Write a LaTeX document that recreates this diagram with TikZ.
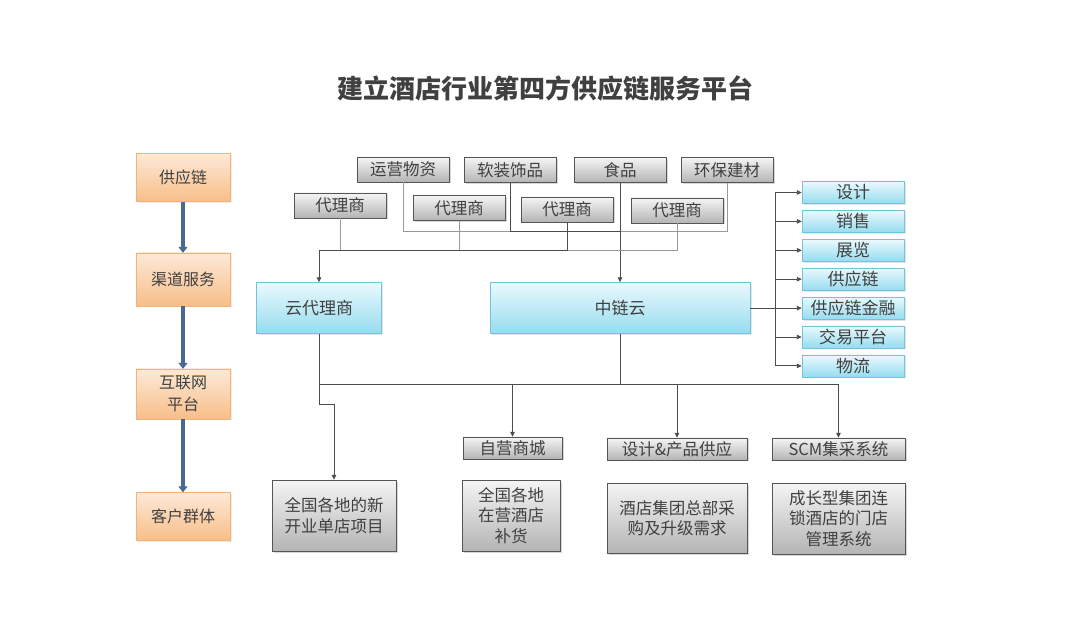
\documentclass[tikz,border=0pt]{standalone}
\usepackage{fontspec}
\setmainfont{Noto Sans CJK SC}
\usepackage{xcolor}
\usepackage{tikz}
\usetikzlibrary{positioning,arrows.meta,shadows}
\definecolor{txt}{HTML}{404040}
\definecolor{orgT}{HTML}{FDE9D8}
\definecolor{orgB}{HTML}{F8BE88}
\definecolor{orgD}{HTML}{F2B27C}
\definecolor{cyT}{HTML}{EAF9FD}
\definecolor{cyB}{HTML}{96DCF0}
\definecolor{cyD}{HTML}{74C3DA}
\definecolor{grT}{HTML}{F5F5F5}
\definecolor{grB}{HTML}{B4B4B4}
\definecolor{grD}{HTML}{555555}
\definecolor{steel}{HTML}{4A6894}
\tikzset{
  ttl/.style={font=\fontsize{26}{30}\selectfont\bfseries,text=txt},
  org/.style={draw=orgD,top color=orgT,bottom color=orgB,minimum width=94pt,minimum height=48pt,inner sep=0pt,align=center,text=txt,font=\fontsize{16}{22}\selectfont,drop shadow={shadow xshift=1.5pt,shadow yshift=-1.5pt,opacity=0.15}},
  gry/.style={draw=grD,top color=grT,bottom color=grB,minimum width=92pt,minimum height=25pt,inner sep=0pt,align=center,text=txt,font=\fontsize{16.5}{20.5}\selectfont,drop shadow={shadow xshift=1.5pt,shadow yshift=-1.5pt,opacity=0.3}},
  cyn/.style={draw=cyD,top color=cyT,bottom color=cyB,inner sep=0pt,text=txt,font=\fontsize{17}{20}\selectfont,drop shadow={shadow xshift=1.5pt,shadow yshift=-1.5pt,opacity=0.2}},
  rbx/.style={cyn,minimum width=102pt,minimum height=22pt},
  ln/.style={draw=black!70,line width=0.9pt},
  lnl/.style={draw=black!40,line width=0.7pt},
  arr/.style={ln,-{Triangle[length=5pt,width=4.5pt]}},
  barr/.style={draw=steel,line width=4pt,-{Triangle[length=6pt,width=9pt]}},
}
\begin{document}
\begin{tikzpicture}[x=1pt,y=-1pt,node distance=6.5pt]
  \fill[white] (0,0) rectangle (1080,636);
  \useasboundingbox (0,0) rectangle (1080,636);
  \node[ttl] (hd) at (545,88) {建立酒店行业第四方供应链服务平台};

  \node[org] (l1) at (183,177.5) {供应链};
  \node[org,minimum height=53pt] (l2) at (183,279.5) {渠道服务};
  \node[org,minimum height=50pt] (l3) at (183,394) {互联网\\平台};
  \node[org] (l4) at (183,516.5) {客户群体};
  \draw[barr] (l1) -- (l2); \draw[barr] (l2) -- (l3); \draw[barr] (l3) -- (l4);

  \node[gry] (s1) at (403,169.5) {运营物资};
  \node[gry] (s2) at (510,170) {软装饰品};
  \node[gry] (s3) at (620,170) {食品};
  \node[gry] (s4) at (727,170) {环保建材};
  \node[gry] (a1) at (340,205.5) {代理商};
  \node[gry] (a2) at (459,208) {代理商};
  \node[gry] (a3) at (567,209.5) {代理商};
  \node[gry] (a4) at (677,210.5) {代理商};

  \node[cyn,minimum width=125pt,minimum height=51pt] (yun) at (319,308) {云代理商};
  \node[cyn,minimum width=260pt,minimum height=51pt] (zl) at (620,308) {中链云};

  \node[rbx] (r1) at (853,192.5) {设计};
  \node[rbx,below=of r1] (r2) {销售};
  \node[rbx,below=of r2] (r3) {展览};
  \node[rbx,below=of r3] (r4) {供应链};
  \node[rbx,below=of r4] (r5) {供应链金融};
  \node[rbx,below=of r5] (r6) {交易平台};
  \node[rbx,below=of r6] (r7) {物流};

  \node[gry,minimum width=99pt,minimum height=22pt] (m1) at (512.5,448) {自营商城};
  \node[gry,minimum width=140pt,minimum height=22pt] (m2) at (677,449) {设计\&产品供应};
  \node[gry,minimum width=133pt,minimum height=22pt] (m3) at (838.5,449) {SCM集采系统};
  \node[gry,minimum width=124pt,minimum height=71pt] (p1) at (334,515.5) {全国各地的新\\开业单店项目};
  \node[gry,minimum width=98pt,minimum height=71pt] (p2) at (511,515.5) {全国各地\\在营酒店\\补货};
  \node[gry,minimum width=140pt,minimum height=70pt] (p3) at (677,518) {酒店集团总部采\\购及升级需求};
  \node[gry,minimum width=133pt,minimum height=71pt] (p4) at (838.5,518.5) {成长型集团连\\锁酒店的门店\\管理系统};

  \coordinate (sy) at (0,231); \coordinate (ay) at (0,250);
  \coordinate (by) at (0,384); \coordinate (rx) at (775,0);
  \draw[lnl] (s1.south) |- (s4 |- sy) -- (s4.south);
  \draw[ln] (s2.south) |- (s3 |- sy);
  \draw[arr] (s3.south) -- (zl.north);
  \draw[lnl] (a4.south) |- (yun |- ay);
  \draw[ln] (a3.south) |- (yun |- ay);
  \draw[lnl] (a1.south) -- (a1 |- ay); \draw[lnl] (a2.south) -- (a2 |- ay);
  \draw[arr] (yun |- ay) -- (yun.north);

  \draw[ln] (zl.east) -- (rx |- zl);
  \draw[ln] (rx |- r1) -- (rx |- r7);
  \foreach \i in {1,...,7} \draw[arr] (rx |- r\i) -- (r\i.west);

  \draw[ln] (yun.south) -- (yun.south |- by) -- (m3 |- by);
  \draw[ln] (zl.south) -- (zl.south |- by);
  \foreach \m in {m1,m2,m3} \draw[arr] (\m |- by) -- (\m.north);
  \draw[arr] (yun |- by) -- ++(0,20) -| (p1.north);
\end{tikzpicture}
\end{document}
